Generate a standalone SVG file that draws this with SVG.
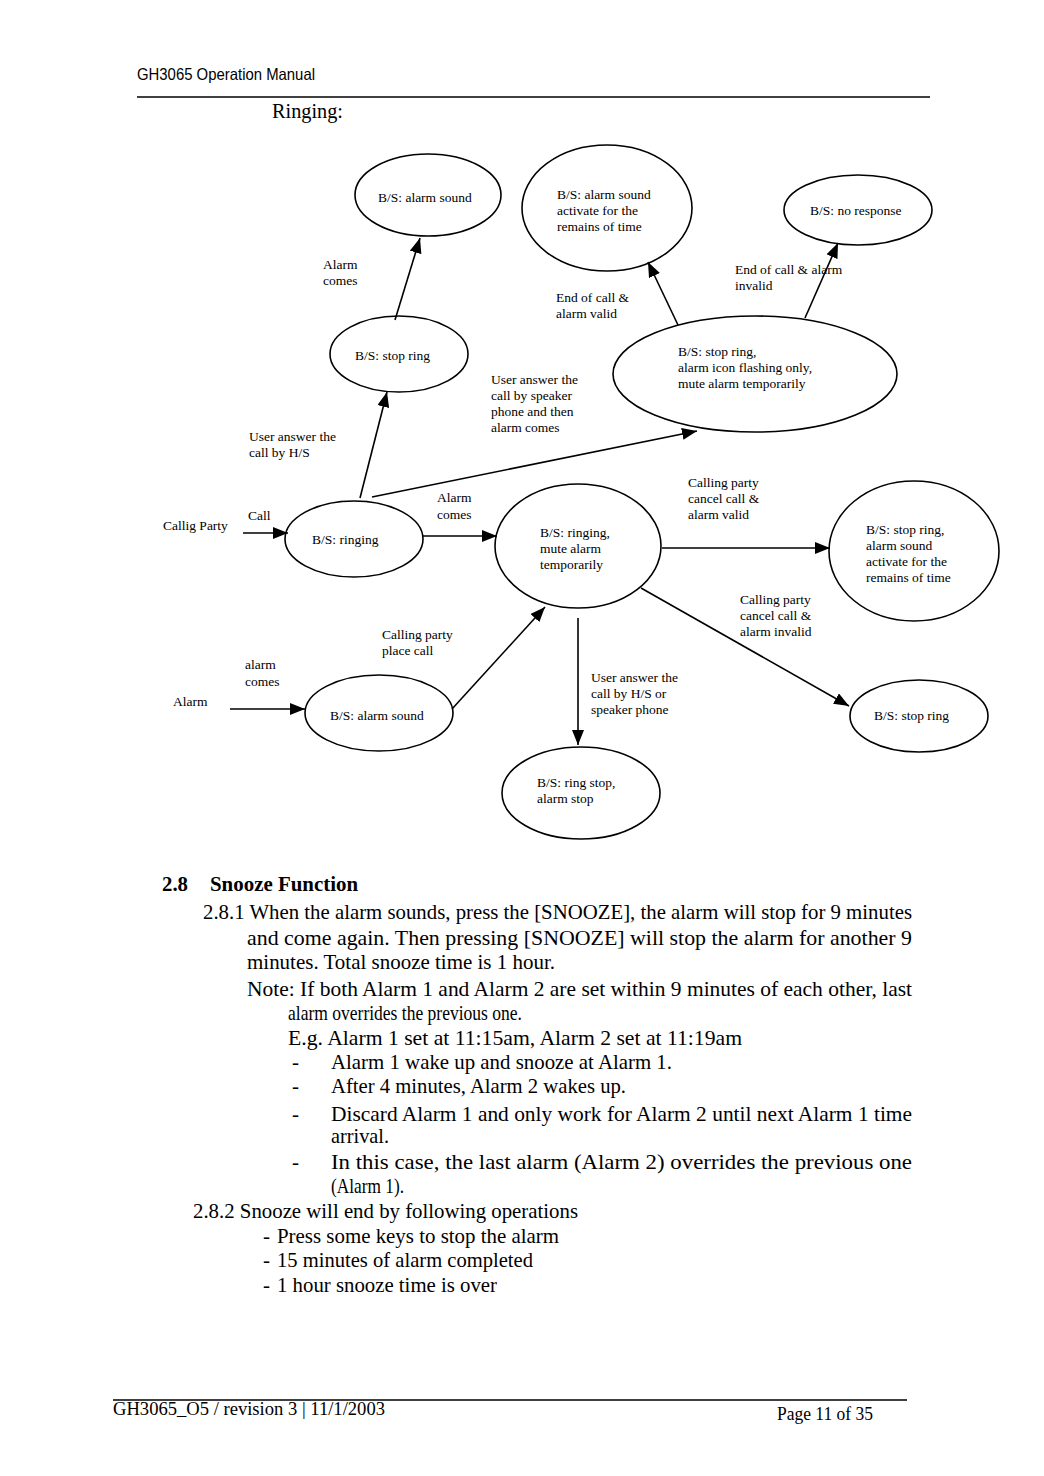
<svg xmlns="http://www.w3.org/2000/svg" width="1044" height="1476" viewBox="0 0 1044 1476">
<style>
.n ellipse{fill:none;stroke:#000;stroke-width:1.6}
.t{font-family:"Liberation Serif","Times New Roman",serif;font-size:13.5px;fill:#000}
.c path{fill:none;stroke:#000;stroke-width:1.6;marker-end:url(#ah)}
.b{font-family:"Liberation Serif","Times New Roman",serif;font-size:21px;fill:#000}
</style>
<defs>
<marker id="ah" markerUnits="userSpaceOnUse" markerWidth="16" markerHeight="12" refX="15" refY="6" orient="auto">
<path d="M0,0 L15,6 L0,12 z" fill="#000"/>
</marker>
</defs>
<rect width="1044" height="1476" fill="#fff"/>

<text x="137" y="80" font-family="'Liberation Sans',Arial,sans-serif" font-size="16.5" textLength="178" lengthAdjust="spacingAndGlyphs">GH3065  Operation Manual</text>
<line x1="137" y1="97" x2="930" y2="97" stroke="#000" stroke-width="1.6"/>
<text x="272" y="118" font-family="'Liberation Serif','Times New Roman',serif" font-size="20" textLength="71" lengthAdjust="spacingAndGlyphs">Ringing:</text>

<g id="n_alarm_sound_top" class="n"><ellipse cx="428" cy="195" rx="73" ry="41"/><text class="t" x="378" y="202">B/S: alarm sound</text></g>
<g id="n_alarm_activate" class="n"><ellipse cx="607" cy="208" rx="85" ry="63"/><text class="t" x="557" y="199">B/S: alarm sound</text><text class="t" x="557" y="215">activate for the</text><text class="t" x="557" y="231">remains of time</text></g>
<g id="n_no_response" class="n"><ellipse cx="858" cy="210" rx="74" ry="35"/><text class="t" x="810" y="215">B/S: no response</text></g>
<g id="n_stop_ring_top" class="n"><ellipse cx="399" cy="354" rx="69" ry="38"/><text class="t" x="355" y="360">B/S: stop ring</text></g>
<g id="n_stop_ring_flash" class="n"><ellipse cx="755" cy="374" rx="142" ry="58"/><text class="t" x="678" y="356">B/S: stop ring,</text><text class="t" x="678" y="372">alarm icon flashing only,</text><text class="t" x="678" y="388">mute alarm temporarily</text></g>
<g id="n_ringing" class="n"><ellipse cx="354" cy="539" rx="69" ry="38"/><text class="t" x="312" y="544">B/S: ringing</text></g>
<g id="n_ringing_mute" class="n"><ellipse cx="578" cy="546" rx="83" ry="62"/><text class="t" x="540" y="537">B/S: ringing,</text><text class="t" x="540" y="553">mute alarm</text><text class="t" x="540" y="569">temporarily</text></g>
<g id="n_stop_ring_sound" class="n"><ellipse cx="914" cy="551" rx="85" ry="70"/><text class="t" x="866" y="534">B/S: stop ring,</text><text class="t" x="866" y="550">alarm sound</text><text class="t" x="866" y="566">activate for  the</text><text class="t" x="866" y="582">remains of time</text></g>
<g id="n_stop_ring_br" class="n"><ellipse cx="919" cy="716" rx="69" ry="36"/><text class="t" x="874" y="720">B/S: stop ring</text></g>
<g id="n_ring_stop" class="n"><ellipse cx="581" cy="793" rx="79" ry="46"/><text class="t" x="537" y="787">B/S: ring stop,</text><text class="t" x="537" y="803">alarm stop</text></g>
<g id="n_alarm_sound_bl" class="n"><ellipse cx="379" cy="713" rx="74" ry="38"/><text class="t" x="330" y="720">B/S: alarm sound</text></g>

<g id="connectors" class="c">
<path d="M243,533 L288,533"/>
<path d="M423,536 L497,536"/>
<path d="M662,548 L830,548"/>
<path d="M641,588 L849,706"/>
<path d="M578,618 L578,745"/>
<path d="M452,709 L545,607"/>
<path d="M230,709 L305,709"/>
<path d="M360,498 L387,392"/>
<path d="M372,497 L697,431"/>
<path d="M395,320 L420,238"/>
<path d="M678,325 L648,262"/>
<path d="M805,318 L838,243"/>
</g>

<g id="labels">
<text class="t" x="323" y="269">Alarm</text><text class="t" x="323" y="285">comes</text>
<text class="t" x="556" y="302">End of call &amp;</text><text class="t" x="556" y="318">alarm valid</text>
<text class="t" x="735" y="274">End of call &amp; alarm</text><text class="t" x="735" y="290">invalid</text>
<text class="t" x="491" y="384">User answer the</text><text class="t" x="491" y="400">call by speaker</text><text class="t" x="491" y="416">phone and then</text><text class="t" x="491" y="432">alarm comes</text>
<text class="t" x="249" y="441">User answer the</text><text class="t" x="249" y="457">call by H/S</text>
<text class="t" x="163" y="530">Callig Party</text>
<text class="t" x="248" y="520">Call</text>
<text class="t" x="437" y="502">Alarm</text><text class="t" x="437" y="519">comes</text>
<text class="t" x="688" y="487">Calling party</text><text class="t" x="688" y="503">cancel call &amp;</text><text class="t" x="688" y="519">alarm valid</text>
<text class="t" x="740" y="604">Calling party</text><text class="t" x="740" y="620">cancel call &amp;</text><text class="t" x="740" y="636">alarm invalid</text>
<text class="t" x="382" y="639">Calling party</text><text class="t" x="382" y="655">place call</text>
<text class="t" x="245" y="669">alarm</text><text class="t" x="245" y="686">comes</text>
<text class="t" x="173" y="706">Alarm</text>
<text class="t" x="591" y="682">User answer the</text><text class="t" x="591" y="698">call by H/S or</text><text class="t" x="591" y="714">speaker phone</text>
</g>

<g id="body">
<text class="b" x="162" y="891" font-weight="bold" textLength="26" lengthAdjust="spacingAndGlyphs">2.8</text>
<text class="b" x="210" y="891" font-weight="bold" textLength="148" lengthAdjust="spacingAndGlyphs">Snooze Function</text>
<text class="b" x="203" y="919" textLength="709" lengthAdjust="spacingAndGlyphs">2.8.1 When the alarm sounds, press the [SNOOZE], the alarm will stop for 9 minutes</text>
<text class="b" x="247" y="945" textLength="665" lengthAdjust="spacingAndGlyphs">and come again. Then pressing [SNOOZE] will stop the alarm for another 9</text>
<text class="b" x="247" y="969" textLength="308" lengthAdjust="spacingAndGlyphs">minutes. Total snooze time is 1 hour.</text>
<text class="b" x="247" y="996" textLength="665" lengthAdjust="spacingAndGlyphs">Note: If both Alarm 1 and Alarm 2 are set within 9 minutes of each other, last</text>
<text class="b" x="288" y="1020" textLength="234" lengthAdjust="spacingAndGlyphs">alarm overrides the previous one.</text>
<text class="b" x="288" y="1045" textLength="454" lengthAdjust="spacingAndGlyphs">E.g. Alarm 1 set at 11:15am, Alarm 2 set at 11:19am</text>
<text class="b" x="292" y="1069">-</text><text class="b" x="331" y="1069" textLength="341" lengthAdjust="spacingAndGlyphs">Alarm 1 wake up and snooze at Alarm 1.</text>
<text class="b" x="292" y="1093">-</text><text class="b" x="331" y="1093" textLength="295" lengthAdjust="spacingAndGlyphs">After 4 minutes, Alarm 2 wakes up.</text>
<text class="b" x="292" y="1121">-</text><text class="b" x="331" y="1121" textLength="581" lengthAdjust="spacingAndGlyphs">Discard Alarm 1 and only work for Alarm 2 until next Alarm 1 time</text>
<text class="b" x="331" y="1143" textLength="58" lengthAdjust="spacingAndGlyphs">arrival.</text>
<text class="b" x="292" y="1169">-</text><text class="b" x="331" y="1169" textLength="581" lengthAdjust="spacingAndGlyphs">In this case, the last alarm (Alarm 2) overrides the previous one</text>
<text class="b" x="331" y="1193" textLength="73" lengthAdjust="spacingAndGlyphs">(Alarm 1).</text>
<text class="b" x="193" y="1218" textLength="385" lengthAdjust="spacingAndGlyphs">2.8.2 Snooze will end by following operations</text>
<text class="b" x="263" y="1243">-</text><text class="b" x="277" y="1243" textLength="282" lengthAdjust="spacingAndGlyphs">Press some keys to stop the alarm</text>
<text class="b" x="263" y="1267">-</text><text class="b" x="277" y="1267" textLength="256" lengthAdjust="spacingAndGlyphs">15 minutes of alarm completed</text>
<text class="b" x="263" y="1292">-</text><text class="b" x="277" y="1292" textLength="220" lengthAdjust="spacingAndGlyphs">1 hour snooze time is over</text>
</g>

<line x1="113" y1="1400" x2="907" y2="1400" stroke="#000" stroke-width="1.4"/>
<text x="113" y="1415" font-family="'Liberation Serif','Times New Roman',serif" font-size="18" textLength="272" lengthAdjust="spacingAndGlyphs">GH3065_O5 / revision 3 |  11/1/2003</text>
<text x="777" y="1420" font-family="'Liberation Serif','Times New Roman',serif" font-size="18" textLength="96" lengthAdjust="spacingAndGlyphs">Page 11 of 35</text>
</svg>
